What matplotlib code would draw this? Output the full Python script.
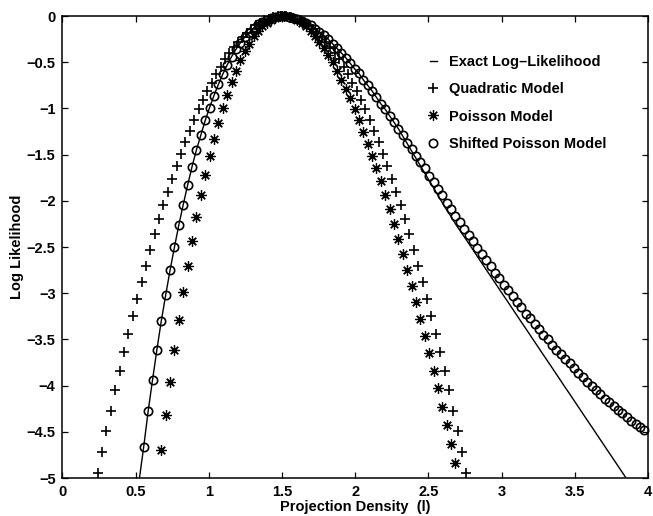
#import modules
import numpy as np
import matplotlib.pyplot as plt

# values (log likelihood vs projection density l)
# quadratic model, '+' markers, l = 0.24 ... 2.76 every 0.03
quad_ll = [-4.95, -4.72, -4.49, -4.27, -4.05, -3.84, -3.64, -3.44, -3.25, -3.06,
           -2.88, -2.70, -2.53, -2.36, -2.20, -2.05, -1.90, -1.76, -1.62, -1.49,
           -1.36, -1.24, -1.12, -1.01, -0.91, -0.81, -0.72, -0.63, -0.55, -0.47,
           -0.40, -0.34, -0.28, -0.23, -0.18, -0.14, -0.10, -0.07, -0.04, -0.03,
           -0.01, -0.00, 0.00, -0.00, -0.01, -0.03, -0.04, -0.07, -0.10, -0.14,
           -0.18, -0.23, -0.28, -0.34, -0.40, -0.47, -0.55, -0.63, -0.72, -0.81,
           -0.91, -1.01, -1.12, -1.24, -1.36, -1.49, -1.62, -1.76, -1.90, -2.05,
           -2.20, -2.36, -2.53, -2.70, -2.88, -3.06, -3.25, -3.44, -3.64, -3.84,
           -4.05, -4.27, -4.49, -4.72, -4.95]
quad_start, quad_stop = 0.24, 2.76

# poisson model, '*' markers, l = 0.675 ... 2.685 every 0.03
pois_ll = [-4.70, -4.32, -3.96, -3.61, -3.29, -2.99, -2.70, -2.43, -2.18, -1.94,
           -1.72, -1.52, -1.33, -1.16, -0.99, -0.85, -0.71, -0.59, -0.48, -0.38,
           -0.30, -0.22, -0.16, -0.11, -0.07, -0.04, -0.02, -0.00, 0.00, -0.01,
           -0.02, -0.04, -0.075, -0.11, -0.16, -0.22, -0.28, -0.35, -0.42, -0.50,
           -0.59, -0.69, -0.79, -0.89, -1.01, -1.13, -1.25, -1.38, -1.51, -1.65,
           -1.79, -1.94, -2.09, -2.25, -2.41, -2.58, -2.75, -2.92, -3.10, -3.28,
           -3.46, -3.65, -3.84, -4.03, -4.23, -4.43, -4.63, -4.84]
pois_start, pois_stop = 0.675, 2.685

# shifted poisson model, 'o' markers, l = 0.555 ... 3.975 every 0.03
shift_ll = [-4.66, -4.28, -3.94, -3.61, -3.30, -3.02, -2.75, -2.50, -2.26, -2.04,
            -1.83, -1.63, -1.45, -1.29, -1.13, -0.99, -0.86, -0.74, -0.63, -0.53,
            -0.44, -0.36, -0.29, -0.23, -0.18, -0.13, -0.09, -0.06, -0.04, -0.02,
            -0.01, -0.00, -0.00, -0.01, -0.02, -0.03, -0.05, -0.08, -0.10, -0.14,
            -0.17, -0.21, -0.25, -0.30, -0.35, -0.40, -0.45, -0.51, -0.57, -0.62,
            -0.69, -0.75, -0.81, -0.88, -0.95, -1.01, -1.08, -1.15, -1.22, -1.29,
            -1.37, -1.44, -1.51, -1.58, -1.65, -1.73, -1.80, -1.87, -1.94, -2.02,
            -2.09, -2.16, -2.23, -2.30, -2.37, -2.44, -2.51, -2.58, -2.64, -2.71,
            -2.78, -2.84, -2.91, -2.97, -3.03, -3.09, -3.15, -3.22, -3.27, -3.33,
            -3.39, -3.45, -3.50, -3.56, -3.61, -3.66, -3.71, -3.76, -3.81, -3.86,
            -3.91, -3.96, -4.00, -4.05, -4.09, -4.14, -4.18, -4.22, -4.26, -4.30,
            -4.34, -4.38, -4.41, -4.45, -4.48]
shift_start, shift_stop = 0.555, 3.975

# exact log-likelihood, solid line, l = 0.495 ... 3.885 every 0.03
exact_ll = [-5.39, -5.01,
            -4.66, -4.28, -3.94, -3.61, -3.30, -3.02, -2.75, -2.50, -2.26, -2.04,
            -1.83, -1.63, -1.45, -1.29, -1.13, -0.99, -0.86, -0.74, -0.63, -0.53,
            -0.44, -0.36, -0.29, -0.23, -0.18, -0.13, -0.09, -0.06, -0.04, -0.02,
            -0.01, -0.00, -0.00, -0.01, -0.02, -0.03, -0.05, -0.08, -0.10, -0.14,
            -0.17, -0.21, -0.25, -0.30, -0.35, -0.40, -0.45, -0.51, -0.57, -0.62,
            -0.69, -0.75, -0.81, -0.88, -0.95, -1.01, -1.08, -1.15, -1.22,
            -1.30, -1.38, -1.46, -1.54, -1.62, -1.70, -1.78, -1.86, -1.94, -2.02,
            -2.10, -2.17, -2.25, -2.32, -2.39, -2.46, -2.53,
            -2.604, -2.675, -2.745, -2.816, -2.887, -2.958, -3.029, -3.099, -3.170,
            -3.241, -3.312, -3.382, -3.453, -3.524, -3.595, -3.666, -3.736, -3.807,
            -3.878, -3.949, -4.020, -4.090, -4.161, -4.232, -4.303, -4.374, -4.444,
            -4.515, -4.586, -4.657, -4.728, -4.798, -4.869, -4.940, -5.011, -5.082]
exact_start, exact_stop = 0.495, 3.885

# axis ticks
x_ticks = [0, 0.5, 1, 1.5, 2, 2.5, 3, 3.5, 4]
x_tick_labels = ['0', '0.5', '1', '1.5', '2', '2.5', '3', '3.5', '4']
y_ticks = [0, -0.5, -1, -1.5, -2, -2.5, -3, -3.5, -4, -4.5, -5]
y_tick_labels = ['0', '\u22120.5', '\u22121', '\u22121.5', '\u22122', '\u22122.5',
                 '\u22123', '\u22123.5', '\u22124', '\u22124.5', '\u22125']

# sample positions (evenly spaced grid in l for each series)
quad_l = np.linspace(quad_start, quad_stop, len(quad_ll))
pois_l = np.linspace(pois_start, pois_stop, len(pois_ll))
shift_l = np.linspace(shift_start, shift_stop, len(shift_ll))
exact_l = np.linspace(exact_start, exact_stop, len(exact_ll))

plt.rcParams['font.family'] = ['Liberation Sans', 'DejaVu Sans']
plt.rcParams['font.size'] = 10.5
plt.rcParams['font.weight'] = 'bold'
plt.rcParams['axes.labelweight'] = 'bold'

fig = plt.figure(figsize=(6.53, 5.16), dpi=100)
ax = fig.add_axes([0.0957, 0.0736, 0.8966, 0.8953])

# plot the curves in black
ax.plot(exact_l, exact_ll, color='k', lw=1.0, label='Exact Log\u2013Likelihood')
ax.plot(quad_l, quad_ll, ls='none', marker='+', color='k', ms=7, mew=1.2,
        clip_on=False, label='Quadratic Model')
ax.plot(pois_l, pois_ll, ls='none', marker=(8, 2, 0), color='k', ms=7.5, mew=0.9,
        clip_on=False, label='Poisson Model')
ax.plot(shift_l, shift_ll, ls='none', marker='o', mfc='none', mec='k', ms=6, mew=1.2,
        clip_on=False, label='Shifted Poisson Model')

# axes, ticks and labels
ax.set_xlim(0, 4)
ax.set_ylim(-5, 0)
ax.set_xticks(x_ticks)
ax.set_xticklabels(x_tick_labels)
ax.set_yticks(y_ticks)
ax.set_yticklabels(y_tick_labels)
ax.tick_params(direction='in', top=True, right=True, length=4, width=0.9,
               labelsize=10.5, pad=5)
for s in ax.spines.values():
    s.set_linewidth(1.1)
ax.set_xlabel('Projection Density  (l)', fontsize=10.5, labelpad=1)
ax.set_ylabel('Log Likelihood', fontsize=10.5, labelpad=2)

# legend without a box
ax.legend(loc='upper left', bbox_to_anchor=(0.627, 0.915), frameon=False,
          handlelength=0.5, handletextpad=0.8, labelspacing=0.9, borderpad=0,
          borderaxespad=0, numpoints=1, fontsize=10.5)

fig.savefig('out.png', dpi=100)
